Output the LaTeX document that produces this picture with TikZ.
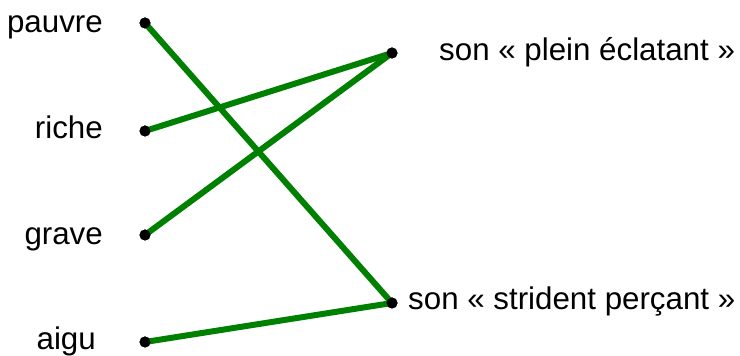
\documentclass[tikz,border=0pt]{standalone}
\usepackage{fontspec}
\setmainfont{Liberation Sans}
\definecolor{lk}{RGB}{0,128,0}
\begin{document}
\begin{tikzpicture}[x=1pt,y=1pt,
  dot/.style={circle,fill=black,inner sep=0pt,minimum size=11pt},
  lbl/.style={font=\fontsize{31.3}{37}\selectfont,inner sep=0pt},
  link/.style={draw=lk,line width=6pt}]
\useasboundingbox (0,0) rectangle (740,356);
\node[dot] (d1) at (145,333) {};
\node[dot] (d2) at (145,225) {};
\node[dot] (d3) at (145,121) {};
\node[dot] (d4) at (145,14) {};
\node[dot] (e1) at (392,303) {};
\node[dot] (e2) at (392,53) {};
\node[lbl,anchor=base east] (l1) at (103,323) {pauvre};
\node[lbl,anchor=base east] (l2) at (103,217) {riche};
\node[lbl,anchor=base east] (l3) at (103,111) {grave};
\node[lbl,anchor=base east] (l4) at (96,6) {aigu};
\node[lbl,anchor=base west] (r1) at (439,295) {son « plein éclatant »};
\node[lbl,anchor=base west] (r2) at (408,46) {son « strident perçant »};
\draw[link] (d1.center) -- (e2.center);
\draw[link] (d2.center) -- (e1.center);
\draw[link] (d3.center) -- (e1.center);
\draw[link] (d4.center) -- (e2.center);
\foreach \n in {d1,d2,d3,d4,e1,e2} \fill (\n) circle (5.5pt);
\end{tikzpicture}
\end{document}
